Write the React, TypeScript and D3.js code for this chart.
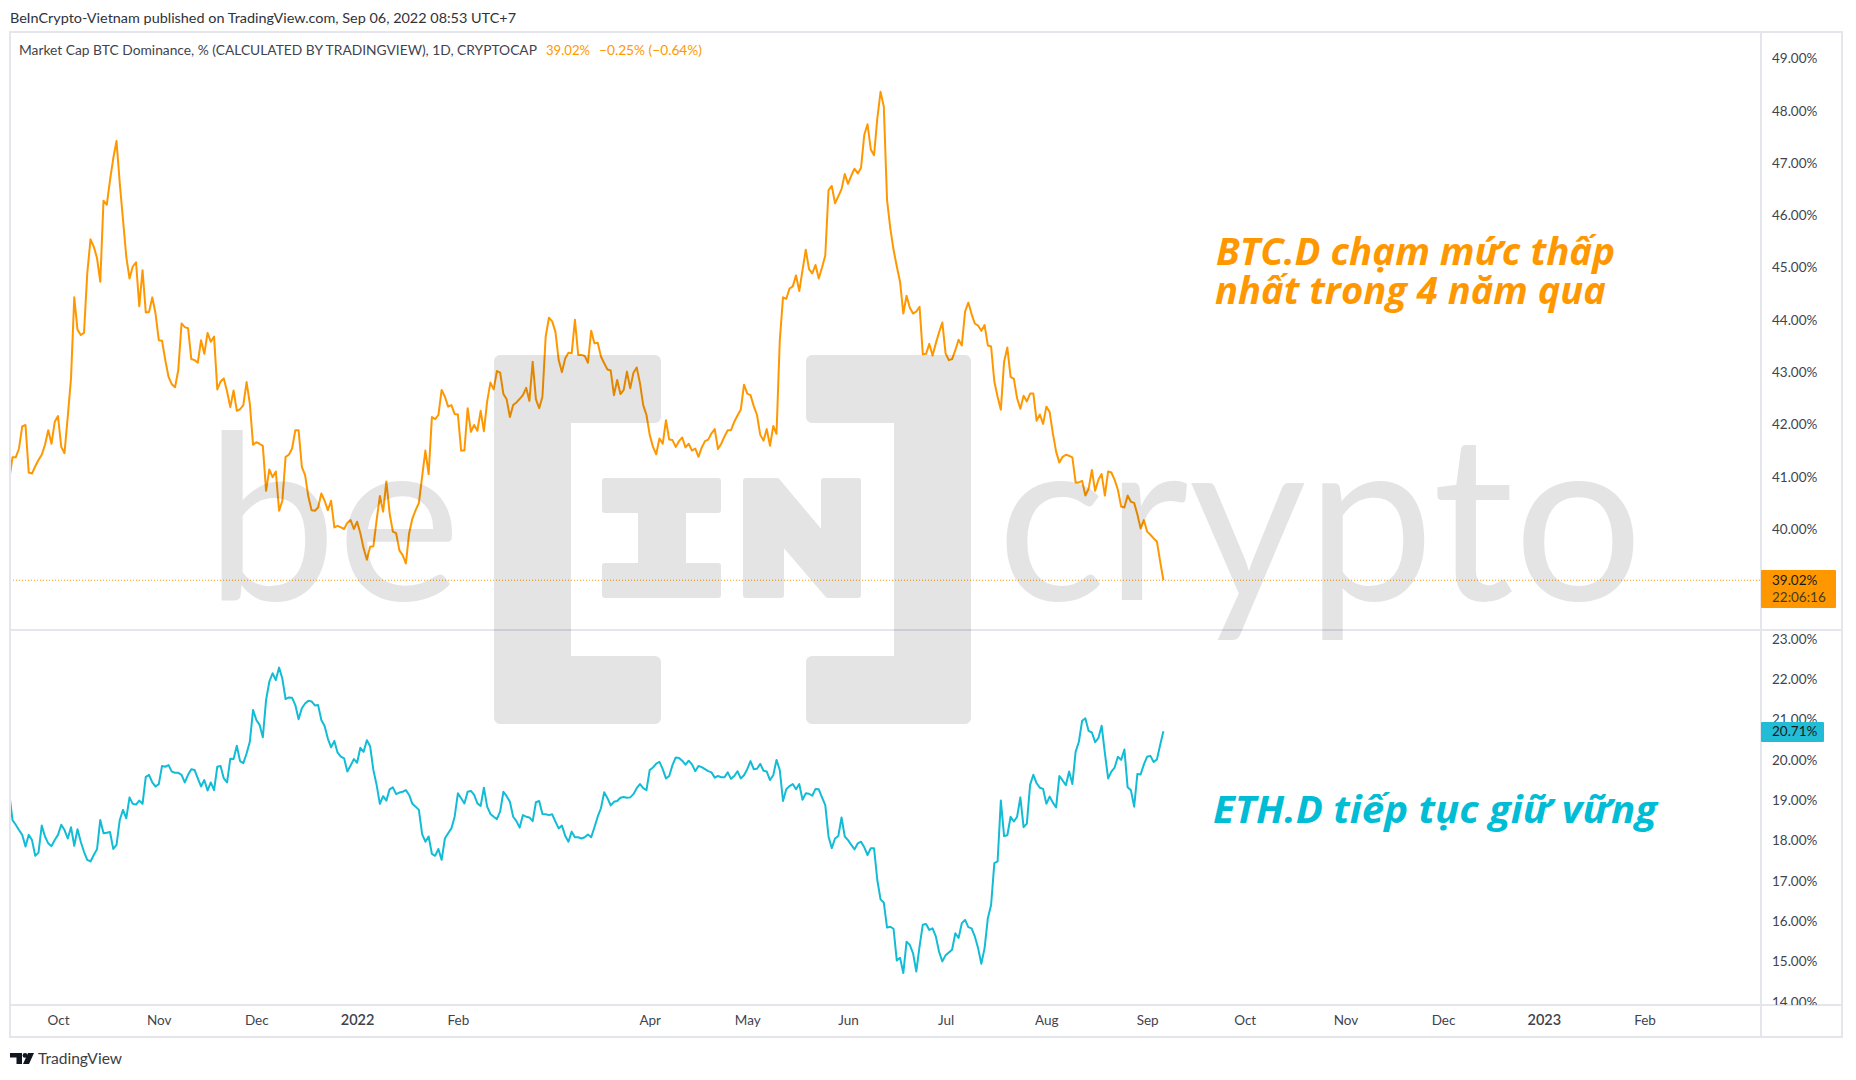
import React, { useEffect, useRef } from "react";
import * as d3 from "d3";

// daily closes, first value is 2021-09-16 (starts left of the visible pane)
const firstDay = "2021-09-16";
const lastDay = "2022-09-06";

const btcValues = [
  40.94, 41.37, 41.37, 41.54, 41.96, 41.99, 41.08, 41.06, 41.20, 41.32, 41.42, 41.61, 41.89, 41.63, 42.05,
  42.16, 41.57, 41.45, 42.15, 42.88, 44.43, 43.81, 43.71, 43.75, 44.89, 45.54, 45.40, 45.18, 44.73, 46.28,
  46.20, 46.67, 47.09, 47.42, 46.61, 45.91, 45.21, 44.79, 45.02, 45.10, 44.26, 44.95, 44.14, 44.15, 44.43,
  44.12, 43.61, 43.60, 43.23, 42.91, 42.77, 42.71, 43.04, 43.93, 43.86, 43.84, 43.25, 43.23, 43.18, 43.61,
  43.35, 43.75, 43.58, 43.68, 42.67, 42.82, 42.88, 42.63, 42.33, 42.65, 42.26, 42.29, 42.37, 42.81, 42.40,
  41.61, 41.66, 41.63, 41.59, 40.73, 41.14, 40.99, 41.10, 40.35, 40.54, 41.38, 41.42, 41.54, 41.89, 41.89,
  41.19, 41.03, 40.62, 40.36, 40.35, 40.41, 40.68, 40.54, 40.36, 40.54, 40.03, 40.06, 40.03, 40.00, 40.12,
  40.17, 40.00, 40.14, 39.92, 39.63, 39.41, 39.66, 39.67, 40.17, 40.63, 40.33, 40.91, 40.30, 39.95, 39.92,
  39.59, 39.50, 39.34, 39.92, 40.20, 40.36, 40.50, 41.00, 41.50, 41.05, 42.14, 42.10, 42.18, 42.66, 42.53,
  42.34, 42.37, 42.20, 42.19, 41.50, 41.50, 42.31, 41.86, 41.99, 41.88, 42.26, 41.87, 42.44, 42.80, 42.67,
  43.02, 42.99, 42.58, 42.48, 42.14, 42.37, 42.42, 42.49, 42.56, 42.70, 42.45, 43.20, 42.48, 42.31, 42.53,
  43.68, 44.04, 43.97, 43.77, 43.23, 43.00, 43.26, 43.37, 43.36, 44.00, 43.33, 43.33, 43.31, 43.18, 43.79,
  43.55, 43.56, 43.30, 43.17, 43.05, 43.03, 42.56, 42.85, 42.58, 42.66, 43.01, 42.69, 42.99, 43.09, 42.79,
  42.37, 42.18, 41.80, 41.57, 41.43, 41.73, 41.63, 42.08, 41.71, 41.70, 41.57, 41.68, 41.75, 41.56, 41.63,
  41.50, 41.54, 41.38, 41.56, 41.68, 41.71, 41.83, 41.91, 41.53, 41.63, 41.77, 41.89, 41.89, 42.05, 42.17,
  42.28, 42.76, 42.59, 42.56, 42.35, 42.18, 41.80, 41.69, 41.91, 41.59, 41.97, 41.82, 43.60, 44.43, 44.40,
  44.60, 44.64, 44.85, 44.55, 44.95, 45.34, 44.97, 44.89, 45.05, 44.79, 45.00, 45.23, 46.48, 46.56, 46.23,
  46.36, 46.50, 46.79, 46.60, 46.76, 46.89, 46.80, 46.91, 47.54, 47.74, 47.26, 47.15, 47.85, 48.36, 48.08,
  46.29, 45.75, 45.34, 45.02, 44.73, 44.12, 44.46, 44.23, 44.12, 44.16, 44.25, 43.34, 43.35, 43.54, 43.32,
  43.55, 43.76, 43.95, 43.36, 43.23, 43.25, 43.42, 43.62, 43.51, 44.16, 44.33, 44.11, 43.93, 43.89, 43.79,
  43.90, 43.51, 43.49, 42.82, 42.53, 42.28, 43.20, 43.47, 42.91, 42.87, 42.50, 42.30, 42.55, 42.44, 42.59,
  42.59, 42.07, 42.19, 42.01, 42.34, 42.24, 41.83, 41.48, 41.27, 41.38, 41.42, 41.40, 41.37, 40.89, 40.89,
  40.92, 40.64, 40.77, 41.13, 40.73, 40.94, 41.05, 40.64, 41.10, 41.08, 40.94, 40.75, 40.43, 40.41, 40.64,
  40.52, 40.50, 40.28, 40.01, 40.17, 39.95, 39.89, 39.82, 39.76, 39.38, 39.02,
];

const ethValues = [
  19.17, 18.51, 18.39, 18.26, 18.14, 17.85, 18.14, 18.01, 17.62, 17.70, 18.37, 18.10, 17.93, 17.86, 18.01,
  18.14, 18.39, 18.26, 18.05, 18.33, 17.87, 18.28, 17.97, 17.72, 17.52, 17.48, 17.64, 17.78, 18.51, 18.18,
  18.19, 18.21, 17.79, 17.89, 18.51, 18.76, 18.55, 19.07, 18.91, 18.89, 18.99, 18.91, 19.58, 19.63, 19.44,
  19.34, 19.40, 19.85, 19.83, 19.87, 19.71, 19.68, 19.68, 19.63, 19.44, 19.63, 19.77, 19.75, 19.54, 19.34,
  19.50, 19.24, 19.44, 19.25, 19.83, 19.85, 19.54, 19.44, 20.03, 20.02, 20.35, 19.97, 19.92, 20.16, 20.45,
  21.24, 20.99, 20.87, 20.56, 21.49, 21.94, 22.15, 21.98, 22.29, 22.02, 21.51, 21.55, 21.54, 21.36, 21.01,
  21.28, 21.40, 21.47, 21.45, 21.35, 21.36, 20.99, 20.84, 20.53, 20.31, 20.47, 20.18, 20.08, 20.04, 19.71,
  19.86, 20.02, 19.93, 20.30, 20.20, 20.49, 20.34, 19.75, 19.38, 18.91, 19.10, 18.99, 19.27, 19.32, 19.15,
  19.19, 19.21, 19.25, 19.13, 18.91, 18.84, 18.76, 18.16, 17.97, 18.10, 17.67, 17.62, 17.79, 17.52, 18.05,
  18.18, 18.30, 18.59, 19.17, 19.05, 18.92, 19.21, 19.23, 19.13, 18.92, 18.86, 19.31, 18.84, 18.66, 18.59,
  18.53, 18.72, 19.21, 19.10, 18.96, 18.59, 18.48, 18.32, 18.63, 18.59, 18.57, 18.48, 18.95, 18.98, 18.66,
  18.65, 18.63, 18.65, 18.47, 18.30, 18.37, 18.12, 17.97, 18.22, 18.08, 18.08, 18.05, 18.08, 18.15, 18.08,
  18.33, 18.59, 18.80, 19.20, 19.05, 18.87, 18.96, 18.98, 19.06, 19.08, 19.06, 19.07, 19.15, 19.30, 19.40,
  19.30, 19.25, 19.75, 19.81, 19.91, 19.95, 19.77, 19.54, 19.60, 19.87, 20.06, 20.05, 19.98, 19.88, 19.98,
  19.89, 19.72, 19.85, 19.82, 19.77, 19.72, 19.69, 19.56, 19.60, 19.57, 19.57, 19.69, 19.53, 19.60, 19.72,
  19.54, 19.62, 19.77, 19.97, 19.77, 19.78, 19.90, 19.73, 19.71, 19.50, 19.62, 20.00, 19.75, 18.98, 19.27,
  19.35, 19.40, 19.27, 19.40, 19.01, 19.17, 19.16, 19.11, 19.28, 19.27, 19.07, 18.88, 18.10, 17.81, 18.05,
  18.11, 18.57, 18.10, 18.01, 17.89, 17.78, 17.93, 17.97, 17.83, 17.64, 17.81, 17.81, 17.02, 16.54, 16.46,
  15.84, 15.86, 15.81, 15.02, 15.09, 14.71, 15.49, 15.41, 15.20, 14.75, 15.37, 15.91, 15.93, 15.78, 15.82,
  15.62, 15.24, 15.00, 15.15, 15.22, 15.29, 15.70, 15.58, 15.95, 16.03, 15.85, 15.82, 15.62, 15.33, 14.94,
  15.33, 16.07, 16.40, 17.44, 17.48, 18.99, 18.11, 18.13, 18.59, 18.47, 18.59, 19.07, 18.33, 18.42, 19.38,
  19.63, 19.42, 19.31, 19.28, 18.91, 19.09, 18.94, 18.82, 19.60, 19.49, 19.37, 19.71, 19.40, 20.20, 20.45,
  20.97, 21.03, 20.72, 20.68, 20.44, 20.54, 20.85, 20.17, 19.54, 19.71, 19.81, 20.08, 20.00, 20.26, 19.32,
  19.25, 18.84, 19.65, 19.64, 19.89, 20.08, 20.10, 19.95, 20.01, 20.37, 20.71,
];

const btcTicks = [40, 41, 42, 43, 44, 45, 46, 47, 48, 49];
const ethTicks = [14, 15, 16, 17, 18, 19, 20, 21, 22, 23];

const monthDates = [
  "2021-10-01", "2021-11-01", "2021-12-01", "2022-01-01", "2022-02-01", "2022-04-01", "2022-05-01", "2022-06-01",
  "2022-07-01", "2022-08-01", "2022-09-01", "2022-10-01", "2022-11-01", "2022-12-01", "2023-01-01", "2023-02-01",
];
const monthLabels = ["Oct", "Nov", "Dec", "2022", "Feb", "Apr", "May", "Jun", "Jul", "Aug", "Sep", "Oct", "Nov", "Dec", "2023", "Feb"];

const ORANGE = "#ff9800";
const TEAL = "#00bcd4";
const BORDER = "#e4e6ec";
const TEXT = "#3f434e";
const FONT = "Lato, 'Noto Sans', sans-serif";
const NOTE_FONT = "'Open Sans', 'Noto Sans', sans-serif";

const App: React.FC = () => {
  const svgRef = useRef<SVGSVGElement | null>(null);

  useEffect(() => {
    if (!svgRef.current) return;
    const svg = d3.select(svgRef.current);
    svg.selectAll("*").remove();

    const paneLeft = 10, paneRight = 1761, frameRight = 1842;
    const frameTop = 32, paneSplit = 630, timeTop = 1005, frameBottom = 1037;

    const x = d3.scaleUtc()
      .domain([new Date("2021-10-01"), new Date(lastDay)])
      .range([58, 1163.4]);
    const yBtc = d3.scaleLinear().domain([40, 49]).range([529, 58.4]);
    const yEth = d3.scaleLinear().domain([14, 23]).range([1001.7, 639]);

    const start = new Date(firstDay);
    const toSeries = (vals: number[]) => vals.map((v, i) => ({ date: d3.utcDay.offset(start, i), v }));

    const defs = svg.append("defs");
    defs.append("clipPath").attr("id", "topPane").append("rect")
      .attr("x", paneLeft).attr("y", frameTop).attr("width", paneRight - paneLeft).attr("height", paneSplit - frameTop);
    defs.append("clipPath").attr("id", "botPane").append("rect")
      .attr("x", paneLeft).attr("y", paneSplit).attr("width", paneRight - paneLeft).attr("height", timeTop - paneSplit);
    defs.append("clipPath").attr("id", "botAxis").append("rect")
      .attr("x", paneRight).attr("y", paneSplit + 1).attr("width", frameRight - paneRight).attr("height", timeTop - paneSplit - 1);

    svg.append("rect").attr("width", 1856).attr("height", 1080).attr("fill", "#fff");

    // dotted last price line
    svg.append("line")
      .attr("x1", paneLeft).attr("x2", paneRight)
      .attr("y1", yBtc(39.02)).attr("y2", yBtc(39.02))
      .attr("stroke", ORANGE).attr("stroke-width", 1).attr("stroke-dasharray", "1 2");

    const lineBtc = d3.line<any>().x((d) => x(d.date)).y((d) => yBtc(d.v));
    const lineEth = d3.line<any>().x((d) => x(d.date)).y((d) => yEth(d.v));

    svg.append("path").datum(toSeries(btcValues))
      .attr("clip-path", "url(#topPane)")
      .attr("d", lineBtc as any)
      .attr("fill", "none").attr("stroke", ORANGE).attr("stroke-width", 2).attr("stroke-linejoin", "round");
    svg.append("path").datum(toSeries(ethValues))
      .attr("clip-path", "url(#botPane)")
      .attr("d", lineEth as any)
      .attr("fill", "none").attr("stroke", "#12bcd6").attr("stroke-width", 2).attr("stroke-linejoin", "round");

    // frame
    const frame = svg.append("g").attr("stroke", BORDER).attr("stroke-width", 2).attr("fill", "none");
    frame.append("rect").attr("x", paneLeft).attr("y", frameTop)
      .attr("width", frameRight - paneLeft).attr("height", frameBottom - frameTop);
    frame.append("line").attr("x1", paneLeft).attr("x2", frameRight).attr("y1", paneSplit).attr("y2", paneSplit);
    frame.append("line").attr("x1", paneLeft).attr("x2", frameRight).attr("y1", timeTop).attr("y2", timeTop);
    frame.append("line").attr("x1", paneRight).attr("x2", paneRight).attr("y1", frameTop).attr("y2", frameBottom);

    // price axes
    const pct = (d: d3.NumberValue) => `${(+d).toFixed(2)}%`;
    const styleAxis = (g: any) => {
      g.select(".domain").remove();
      g.selectAll("text").attr("font-family", FONT).attr("font-size", 13.5).attr("fill", TEXT);
    };
    svg.append("g").attr("transform", `translate(${paneRight + 11},0)`)
      .call(d3.axisRight(yBtc).tickValues(btcTicks).tickFormat(pct).tickSize(0).tickPadding(0) as any)
      .call(styleAxis);
    svg.append("g").attr("clip-path", "url(#botAxis)")
      .append("g").attr("transform", `translate(${paneRight + 11},0)`)
      .call(d3.axisRight(yEth).tickValues(ethTicks).tickFormat(pct).tickSize(0).tickPadding(0) as any)
      .call(styleAxis);

    // time axis
    const dates = monthDates.map((d) => new Date(d));
    const timeAxis = svg.append("g").attr("transform", `translate(0,${timeTop + 10})`)
      .call(d3.axisBottom(x).tickValues(dates).tickSize(0).tickPadding(0)
        .tickFormat((_, i) => monthLabels[i]) as any)
      .call(styleAxis);
    timeAxis.selectAll("text")
      .attr("font-weight", (_: any, i: number) => (monthLabels[i].startsWith("20") ? 600 : 400))
      .attr("font-size", (_: any, i: number) => (monthLabels[i].startsWith("20") ? 14.5 : 13.5));

    // price labels
    svg.append("rect").attr("x", paneRight).attr("y", 570).attr("width", 75).attr("height", 38).attr("rx", 1).attr("fill", ORANGE);
    svg.append("rect").attr("x", paneRight).attr("y", 722).attr("width", 63).attr("height", 20).attr("rx", 1).attr("fill", "#23bcd6");
    const lab = svg.append("g").attr("font-family", FONT).attr("font-size", 13.5).attr("fill", "#1a1a1a");
    lab.append("text").attr("x", paneRight + 11).attr("y", yBtc(39.02) + 5).text("39.02%");
    lab.append("text").attr("x", paneRight + 11).attr("y", 602).attr("fill", "#4a3a1a").text("22:06:16");
    lab.append("text").attr("x", paneRight + 11).attr("y", yEth(20.71) + 5).text("20.71%");

    // header texts
    const label = (s: string, xp: number, yp: number, w: number, fill: string, size = 13.5) =>
      svg.append("text").attr("x", xp).attr("y", yp).attr("font-family", FONT).attr("font-size", size)
        .attr("fill", fill).attr("textLength", w).attr("lengthAdjust", "spacingAndGlyphs").text(s);
    label("BeInCrypto-Vietnam published on TradingView.com, Sep 06, 2022 08:53 UTC+7", 10, 22.5, 506, "#2f323a");
    label("Market Cap BTC Dominance, % (CALCULATED BY TRADINGVIEW), 1D, CRYPTOCAP", 19, 55, 518, TEXT);
    label("39.02%", 546, 55, 44, ORANGE);
    label("−0.25% (−0.64%)", 599, 55, 103, ORANGE);

    // annotations
    const note = (s: string, xp: number, yp: number, w: number, fill: string) =>
      svg.append("text").attr("x", xp).attr("y", yp).attr("font-family", NOTE_FONT)
        .attr("font-size", 37).attr("font-weight", 700).attr("font-style", "italic").attr("fill", fill)
        .attr("textLength", w).attr("lengthAdjust", "spacingAndGlyphs").text(s);
    note("BTC.D chạm mức thấp", 1216, 265, 399, ORANGE);
    note("nhất trong 4 năm qua", 1215, 304, 391, ORANGE);
    note("ETH.D tiếp tục giữ vững", 1213, 823, 444, TEAL);

    // TradingView mark
    const tv = svg.append("g").attr("fill", "#131722");
    tv.append("path").attr("d", "M10 1053h12v11h-5.5v-6.5H10z");
    tv.append("circle").attr("cx", 25).attr("cy", 1055.4).attr("r", 2.4);
    tv.append("path").attr("d", "M28 1053h6l-5 11h-6z");
    label("TradingView", 38, 1064, 84, "#3a3d45", 15.5);

    // beincrypto watermark sits over the chart
    const mark = svg.append("g").attr("opacity", 0.1);
    const big = mark.append("g").attr("fill", "#000").attr("stroke", "#000").attr("stroke-width", 12).attr("stroke-linejoin", "round");
    big.append("path").attr("d", "M500 361H655V417H565V662H655V718H500Z");
    big.append("path").attr("d", "M812 361H965V718H812V662H900V417H812Z");
    const small = mark.append("g").attr("fill", "#000").attr("stroke", "#000").attr("stroke-width", 6).attr("stroke-linejoin", "round");
    small.append("path").attr("d", "M605 481H718V510H683V566H718V595H605V566H641V510H605Z");
    small.append("path").attr("d", "M746 481H777L824 537V481H858V595H828L781 540V595H746Z");
    const word = (s: string, xp: number, w: number) =>
      mark.append("text").attr("x", xp).attr("y", 600).attr("font-family", "Lato, 'Open Sans', sans-serif")
        .attr("font-size", 232).attr("font-weight", 400).attr("fill", "#000")
        .attr("textLength", w).attr("lengthAdjust", "spacingAndGlyphs").text(s);
    word("be", 205, 256);
    word("crypto", 997, 646);
  }, []);

  return <svg ref={svgRef} width={1856} height={1080} style={{ position: "absolute", left: 0, top: 0, display: "block" }} />;
};

export default App;
